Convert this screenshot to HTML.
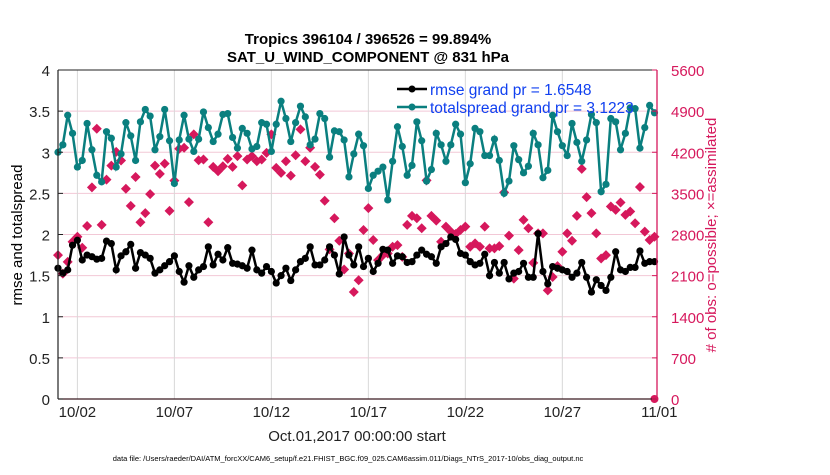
<!DOCTYPE html>
<html><head><meta charset="utf-8"><style>
body{margin:0;background:#fff;width:830px;height:470px;overflow:hidden;font-family:"Liberation Sans",Arial,sans-serif}
svg text{font-family:"Liberation Sans",Arial,sans-serif}
</style></head><body>
<svg id="chart" width="830" height="470" xmlns="http://www.w3.org/2000/svg">
<text x="368" y="44" text-anchor="middle" font-size="15" font-weight="bold">Tropics 396104 / 396526 = 99.894%</text>
<text x="368" y="62" text-anchor="middle" font-size="15" font-weight="bold">SAT_U_WIND_COMPONENT @ 831 hPa</text>
<g id="grid"></g>
<g id="marks"></g>
<g id="axes"></g>
<text transform="translate(22,235) rotate(-90)" text-anchor="middle" font-size="15">rmse and totalspread</text>
<text transform="translate(716,235) rotate(-90)" text-anchor="middle" font-size="15" fill="#d6185c">
# of obs: o=possible; ×=assimilated</text>
<text x="357" y="441" text-anchor="middle" font-size="15" fill="#222">Oct.01,2017 00:00:00 start</text>
<text x="348" y="461" text-anchor="middle" font-size="7.5">data file: /Users/raeder/DAI/ATM_forcXX/CAM6_setup/f.e21.FHIST_BGC.f09_025.CAM6assim.011/Diags_NTrS_2017-10/obs_diag_output.nc</text>
<g>
<line x1="397" y1="89" x2="427" y2="89" stroke="#000" stroke-width="2.5"/>
<circle cx="412" cy="89" r="3.5" fill="#000"/>
<text x="430" y="95" font-size="15.5" fill="#1040f0">rmse grand pr = 1.6548</text>
<line x1="397" y1="107" x2="427" y2="107" stroke="#0a7f7f" stroke-width="2.5"/>
<circle cx="412" cy="107" r="3.5" fill="#0a7f7f"/>
<text x="430" y="113" font-size="15.5" fill="#1040f0">totalspread grand pr = 3.1223</text>
</g>
</svg>
<script>
const dateLabels=["10/02","10/07","10/12","10/17","10/22","10/27","11/01"];
const dateDays=[1,6,11,16,21,26,31];
const leftTicks=[0,0.5,1,1.5,2,2.5,3,3.5,4];
const rightTicks=[0,700,1400,2100,2800,3500,4200,4900,5600];
const spread=[3.0,3.09,3.45,3.23,2.82,2.9,3.35,3.03,2.72,2.64,3.25,3.17,2.82,2.98,3.36,3.2,2.9,3.37,3.52,3.44,3.03,3.19,3.52,3.14,2.62,3.15,3.45,3.16,3.01,3.16,3.49,3.3,3.13,3.22,3.46,3.47,3.18,3.05,3.29,3.23,3.04,3.07,3.36,
3.34,3.01,3.34,3.62,3.41,3.13,3.36,3.56,3.43,3.09,3.16,3.47,3.41,2.94,3.26,3.25,3.15,2.7,2.98,3.22,3.08,2.56,2.72,2.77,2.82,2.42,2.89,3.31,3.07,2.72,2.84,3.37,3.14,2.65,2.79,3.23,3.09,2.89,3.09,3.34,3.22,
2.63,2.86,3.29,3.25,2.96,2.96,3.16,2.9,2.5,2.65,3.08,2.91,2.75,2.83,3.23,3.09,2.69,2.78,3.45,3.25,3.08,2.96,3.35,3.12,2.89,3.15,3.46,3.36,2.52,2.61,3.41,3.37,3.03,3.23,3.54,3.53,3.05,3.3,3.57,3.48];
const rmse=[1.59,1.53,1.57,1.87,1.93,1.69,1.75,1.73,1.7,1.71,1.92,1.89,1.57,1.74,1.79,1.88,1.59,1.78,1.75,1.71,1.53,1.57,1.62,1.67,1.74,1.55,1.42,1.62,1.48,1.57,1.61,1.85,1.63,1.76,1.69,1.84,1.65,1.64,1.62,1.59,1.81,1.57,1.53,
1.61,1.55,1.41,1.5,1.59,1.44,1.57,1.67,1.71,1.85,1.63,1.63,1.69,1.85,1.75,1.52,1.97,1.75,1.63,1.85,1.61,1.71,1.55,1.65,1.82,1.81,1.65,1.74,1.73,1.66,1.67,1.75,1.81,1.76,1.73,1.65,1.85,1.89,1.97,1.94,1.77,
1.75,1.67,1.63,1.65,1.76,1.5,1.66,1.53,1.66,1.46,1.53,1.55,1.65,1.48,1.48,2.01,1.55,1.4,1.61,1.59,1.57,1.55,1.48,1.53,1.66,1.48,1.3,1.45,1.38,1.32,1.48,1.79,1.57,1.55,1.6,1.6,1.8,1.65,1.67,1.67];
const obsCount=[2449,2135,2334,2677,2762,2574,2945,3602,4601,2963,3733,3973,4207,4059,3579,3288,3779,3009,3163,3488,3973,3831,4007,3202,3716,4259,4276,3351,4504,4064,4076,3009,3951,3876,3961,4088,3951,4133,3636,4076,4133,4047,4076,
4190,4504,3933,3848,4047,3802,4150,4590,4047,4276,3951,3819,3374,2546,3077,2694,2204,2477,1821,2021,2877,3248,2706,2363,2449,2477,2591,2620,2420,2963,3117,3077,2906,3721,3117,3037,2677,2934,2848,2808,2877,
2934,2591,2649,2591,2934,2563,2563,2603,3516,2780,2050,2535,3048,2906,2317,2820,2820,1850,2077,2261,2506,2820,2694,3117,3916,3437,3163,2820,2392,2449,3276,3220,3345,3134,3191,2992,3608,2848,2706,2762];
const finalObs=[0];
const stepDays=0.25;
const X0=58,X1=657,Y0=399,Y1=70,DMAX=30.88;
const xs=d=>X0+d*(X1-X0)/DMAX;
const yl=v=>Y0-v*(Y0-Y1)/4;
const yr=v=>Y0-v*(Y0-Y1)/5600;
const NS="http://www.w3.org/2000/svg";
function mk(parent,tag,attrs){const e=document.createElementNS(NS,tag);for(const k in attrs)e.setAttribute(k,attrs[k]);parent.appendChild(e);return e;}
const grid=document.getElementById('grid'),marks=document.getElementById('marks'),axes=document.getElementById('axes');
leftTicks.forEach((v,i)=>{if(i>0&&i<leftTicks.length-1){const g=mk(grid,'line',{x1:X0,x2:X1,y1:yl(v),y2:yl(v),stroke:'#f2c8d6','stroke-width':1});

}});
dateDays.forEach(d=>{if(xs(d)<X1-1){const g=mk(grid,'line',{x1:xs(d),x2:xs(d),y1:Y1,y2:Y0,stroke:'#d8d8d8','stroke-width':1});

}});
// obs markers
obsCount.forEach((v,i)=>{const x=xs(i*stepDays),y=yr(v);
const p=mk(marks,'path',{d:`M${x} ${y-5}L${x+5} ${y}L${x} ${y+5}L${x-5} ${y}Z`,fill:'#d6185c'});

});
finalObs.forEach(v=>{const c=mk(marks,'circle',{cx:xs((obsCount.length-1)*stepDays),cy:yr(v),r:4,fill:'#d6185c'});

});
function series(arr,color,name){
const pts=arr.map((v,i)=>xs(i*stepDays).toFixed(1)+','+yl(v).toFixed(1)).join(' ');
const pl=mk(marks,'polyline',{points:pts,fill:'none',stroke:color,'stroke-width':2.5});


arr.forEach((v,i)=>{const c=mk(marks,'circle',{cx:xs(i*stepDays),cy:yl(v),r:3.6,fill:color});

});}
series(spread,'#0a7f7f','totalspread');
series(rmse,'#000000','rmse');
// axes
let a=mk(axes,'line',{x1:X0,x2:X1,y1:Y1,y2:Y1,stroke:'#222','stroke-width':1});


a=mk(axes,'line',{x1:X0,x2:X1,y1:Y0,y2:Y0,stroke:'#3a1a22','stroke-width':1.2});


a=mk(axes,'line',{x1:X0,x2:X0,y1:Y1,y2:Y0,stroke:'#222','stroke-width':1.2});


a=mk(axes,'line',{x1:X1,x2:X1,y1:Y1,y2:Y0,stroke:'#d6185c','stroke-width':1.3});


leftTicks.forEach(v=>{const t=mk(axes,'text',{x:X0-8,y:yl(v)+6,'text-anchor':'end','font-size':15,fill:'#222'});t.textContent=v;


const k=mk(axes,'line',{x1:X0,x2:X0+5,y1:yl(v),y2:yl(v),stroke:'#222'});

});
rightTicks.forEach(v=>{const t=mk(axes,'text',{x:X1+14,y:yr(v)+6,'font-size':15,fill:'#d6185c'});t.textContent=v;


const k=mk(axes,'line',{x1:X1-5,x2:X1,y1:yr(v),y2:yr(v),stroke:'#d6185c'});

});
dateLabels.forEach((s,i)=>{const t=mk(axes,'text',{x:xs(dateDays[i]),y:417,'text-anchor':'middle','font-size':15,fill:'#222'});t.textContent=s;

});
</script>
</body></html>
